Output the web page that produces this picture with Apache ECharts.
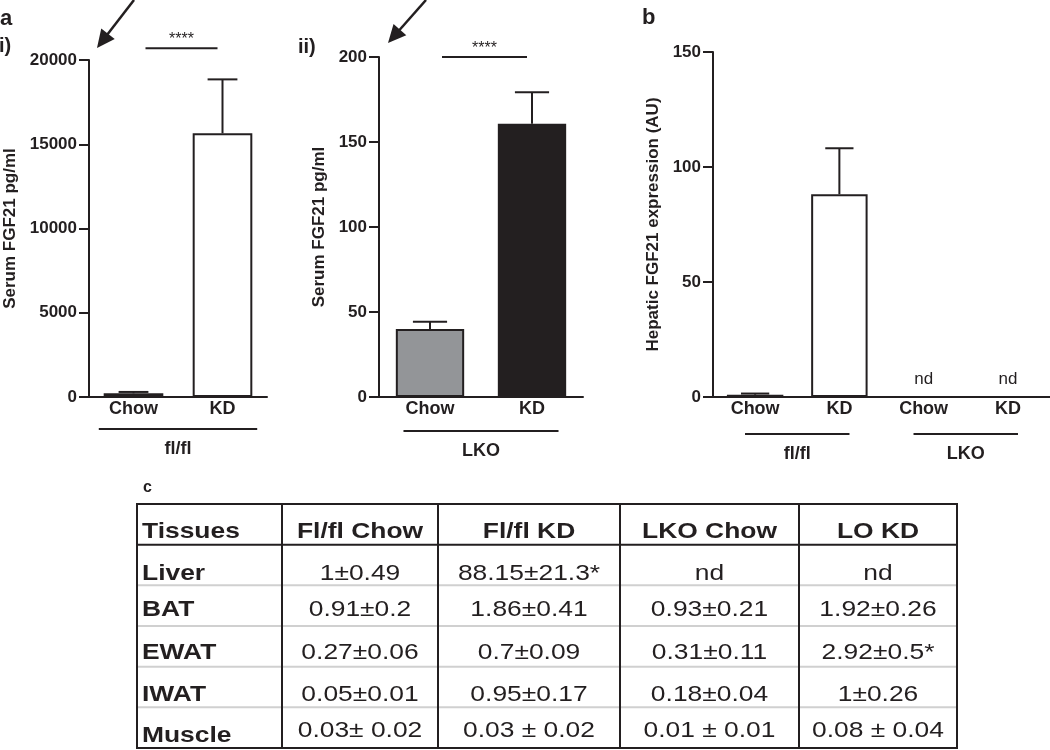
<!DOCTYPE html>
<html><head><meta charset="utf-8">
<script src="https://cdn.jsdelivr.net/npm/echarts@6/dist/echarts.min.js"></script>
<style>html,body{margin:0;padding:0;background:#fff}#c{width:1050px;height:750px}</style>
</head><body><div id="c"></div>
<script>
// ---------- data ----------
// panel a(i): serum FGF21, fl/fl mice
const catsA = ['Chow', 'KD'];
const serumFlfl = [220, 15650];
const serumFlflErr = [80, 3200];
// panel a(ii): serum FGF21, LKO mice
const serumLKO = [40, 160.8];
const serumLKOErr = [4.3, 18.4];
// significance annotations (value level of bracket, label)
const sigLevel = [20700, 200];
const sigLabel = ['****', '****'];
// group labels under x axes
const groupA1 = ['fl/fl'];
const groupA2 = ['LKO'];
const groupB = ['fl/fl', 'LKO'];
const groupBStart = [0, 2];
const groupBEnd = [1, 3];
// panel b: hepatic FGF21 expression
const catsB = ['Chow', 'KD', 'Chow', 'KD'];
const hepatic = [1, 88.15, 0, 0];
const hepaticErr = [0.5, 20, 0, 0];
const hepaticND = [false, false, true, true];
// panel c: table
const tableHeader = ['Tissues', 'Fl/fl Chow', 'Fl/fl KD', 'LKO Chow', 'LO KD'];
const tissues = ['Liver', 'BAT', 'EWAT', 'IWAT', 'Muscle'];
const colFlflChow = ['1±0.49', '0.91±0.2', '0.27±0.06', '0.05±0.01', '0.03± 0.02'];
const colFlflKD = ['88.15±21.3*', '1.86±0.41', '0.7±0.09', '0.95±0.17', '0.03 ± 0.02'];
const colLKOChow = ['nd', '0.93±0.21', '0.31±0.11', '0.18±0.04', '0.01 ± 0.01'];
const colLOKD = ['nd', '1.92±0.26', '2.92±0.5*', '1±0.26', '0.08 ± 0.04'];

// ---------- style ----------
const INK = '#231f20';
const GREY = '#939598';
const FONT = '"Liberation Sans", Arial, Helvetica, sans-serif';

const chart = echarts.init(document.getElementById('c'));

const grids = [
  {left: 89, top: 60, width: 178, height: 337},
  {left: 379, top: 57, width: 204, height: 340},
  {left: 713, top: 52, width: 337, height: 345}
];
const tblLeft = [137, 282, 438, 620, 799];
const tblWidth = [145, 156, 182, 179, 158];
tblLeft.forEach((l, i) => grids.push({left: l, top: 504, width: tblWidth[i], height: 244,
  show: true, borderColor: INK, borderWidth: 2, backgroundColor: 'transparent'}));

function xCat(gi, data) {
  return {type: 'category', gridIndex: gi, data: data,
    axisLine: {show: true, lineStyle: {color: INK, width: 2}},
    axisTick: {show: false},
    axisLabel: {margin: 3, color: INK, fontSize: 18, fontWeight: 'bold', fontFamily: FONT}};
}
function yVal(gi, max, interval, name, gap) {
  return {type: 'value', gridIndex: gi, min: 0, max: max, interval: interval,
    axisLine: {show: true, lineStyle: {color: INK, width: 2}},
    axisTick: {show: true, length: 10, lineStyle: {color: INK, width: 2}},
    axisLabel: {margin: 12, color: INK, fontSize: 17, fontWeight: 'bold', fontFamily: FONT,
      formatter: v => String(v)},
    splitLine: {show: false},
    name: name, nameLocation: 'middle', nameGap: gap,
    nameTextStyle: {color: INK, fontSize: 17, fontWeight: 'bold', fontFamily: FONT}};
}

function errSeries(ai, vals, errs) {
  return {type: 'custom', xAxisIndex: ai, yAxisIndex: ai, z: 5, silent: true, clip: false,
    encode: {x: 0, y: 1},
    data: vals.map((v, i) => [i, v, v + errs[i]]),
    renderItem(p, api) {
      if (!(api.value(2) > api.value(1))) return null;
      const x = api.value(0);
      const base = api.coord([x, api.value(1)]);
      const top = api.coord([x, api.value(2)]);
      const half = api.size([1, 0])[0] * 0.67 / 4;
      return {type: 'group', children: [
        {type: 'line', shape: {x1: base[0], y1: base[1], x2: top[0], y2: top[1]}, style: {stroke: INK, lineWidth: 2}},
        {type: 'line', shape: {x1: top[0] - half, y1: top[1], x2: top[0] + half, y2: top[1]}, style: {stroke: INK, lineWidth: 2}}
      ]};
    }};
}

function sigSeries(ai, k) {
  return {type: 'custom', xAxisIndex: ai, yAxisIndex: ai, z: 5, silent: true, clip: false,
    encode: {x: 0, y: 1},
    data: [[0, sigLevel[k]]],
    renderItem(p, api) {
      const a = api.coord([0, api.value(1)]);
      const b = api.coord([1, api.value(1)]);
      const x1 = a[0] + 12, x2 = b[0] - 5;
      return {type: 'group', children: [
        {type: 'line', shape: {x1: x1, y1: a[1], x2: x2, y2: a[1]}, style: {stroke: INK, lineWidth: 2}},
        {type: 'text', style: {text: sigLabel[k], x: (x1 + x2) / 2, y: a[1] - 8.5, align: 'center',
          verticalAlign: 'middle', fill: INK, font: '16px ' + FONT}}
      ]};
    }};
}

function groupSeries(ai, starts, ends, labels, ext, lineOff) {
  return {type: 'custom', xAxisIndex: ai, yAxisIndex: ai, z: 5, silent: true, clip: false,
    encode: {x: [0, 1], y: 2},
    data: starts.map((s, k) => [s, ends[k], 0]),
    renderItem(p, api) {
      const k = p.dataIndex;
      const a = api.coord([api.value(0), 0]);
      const b = api.coord([api.value(1), 0]);
      const bw = api.size([1, 0])[0];
      const x1 = a[0] - bw * ext, x2 = b[0] + bw * ext, y = a[1] + lineOff;
      return {type: 'group', children: [
        {type: 'line', shape: {x1: x1, y1: y, x2: x2, y2: y}, style: {stroke: INK, lineWidth: 2}},
        {type: 'text', style: {text: labels[k], x: (x1 + x2) / 2, y: y + 20, align: 'center',
          verticalAlign: 'middle', fill: INK, font: 'bold 18px ' + FONT}}
      ]};
    }};
}

const tableColumns = [tissues, colFlflChow, colFlflKD, colLKOChow, colLOKD];
// vertical text offset of each table row (header + 5 body rows), in px
const rowTextShift = [8, 9, 4, 7, 8, 3];
function tableSeries(i) {
  const cells = [tableHeader[i]].concat(tableColumns[i]);
  const ai = 3 + i;
  return {type: 'custom', xAxisIndex: ai, yAxisIndex: ai, silent: true, z: 3,
    encode: {x: 0, y: 1},
    data: cells.map((t, r) => [0, r]),
    renderItem(p, api) {
      const r = api.value(1);
      const c = api.coord([0, r]);
      const s = api.size([1, 1]);
      const x0 = c[0] - s[0] / 2, y0 = c[1] - s[1] / 2;
      const kids = [];
      if (r >= 1) kids.push({type: 'line', shape: {x1: x0 + 1, y1: y0, x2: x0 + s[0] - 1, y2: y0},
        style: {stroke: r === 1 ? INK : '#d0d0d0', lineWidth: 2}});
      const bold = r === 0 || i === 0;
      const shift = (i === 0 && r === 5) ? 8 : rowTextShift[r];
      kids.push({type: 'text', x: i === 0 ? x0 + 5 : c[0], y: c[1] + shift, scaleX: 1.2,
        style: {text: cells[r], x: 0, y: 0,
        align: i === 0 ? 'left' : 'center', verticalAlign: 'middle', fill: INK,
        font: (bold ? 'bold ' : '') + '22px ' + FONT}});
      return {type: 'group', children: kids};
    }};
}

function arrow(x1, y1, x2, y2) {
  const dx = x2 - x1, dy = y2 - y1, L = Math.hypot(dx, dy);
  const ux = dx / L, uy = dy / L, hl = 18, hw = 8.5;
  const bx = x2 - ux * hl, by = y2 - uy * hl;
  return [
    {type: 'line', shape: {x1: x1, y1: y1, x2: bx + ux * 2, y2: by + uy * 2}, style: {stroke: INK, lineWidth: 2.5}},
    {type: 'polygon', shape: {points: [[x2, y2], [bx - uy * hw, by + ux * hw], [bx + uy * hw, by - ux * hw]]}, style: {fill: INK}}
  ];
}

const xAxes = [xCat(0, catsA), xCat(1, catsA), xCat(2, catsB)];
const yAxes = [
  yVal(0, 20000, 5000, 'Serum FGF21 pg/ml', 70),
  yVal(1, 200, 50, 'Serum FGF21 pg/ml', 51),
  yVal(2, 150, 50, 'Hepatic FGF21 expression (AU)', 51)
];
for (let i = 0; i < 5; i++) {
  xAxes.push({type: 'category', gridIndex: 3 + i, data: [tableHeader[i]], show: false});
  yAxes.push({type: 'category', gridIndex: 3 + i, data: ['header'].concat(tissues), inverse: true, show: false});
}

const lkoColors = [GREY, INK];
const series = [
  {type: 'bar', xAxisIndex: 0, yAxisIndex: 0, data: serumFlfl, barWidth: '67%',
    itemStyle: {color: '#fff', borderColor: INK, borderWidth: 2}},
  errSeries(0, serumFlfl, serumFlflErr),
  sigSeries(0, 0),
  groupSeries(0, [0], [1], groupA1, 0.39, 32),
  {type: 'bar', xAxisIndex: 1, yAxisIndex: 1, barWidth: '67%',
    data: serumLKO.map((v, i) => ({value: v, itemStyle: {color: lkoColors[i]}})),
    itemStyle: {borderColor: INK, borderWidth: 2}},
  errSeries(1, serumLKO, serumLKOErr),
  sigSeries(1, 1),
  groupSeries(1, [0], [1], groupA2, 0.26, 34),
  {type: 'bar', xAxisIndex: 2, yAxisIndex: 2, barWidth: '67%',
    data: hepatic.map((v, i) => ({value: v, label: {show: hepaticND[i]}})),
    itemStyle: {color: '#fff', borderColor: INK, borderWidth: 2},
    label: {position: 'top', distance: 8, formatter: 'nd', color: INK, fontSize: 17, fontFamily: FONT}},
  errSeries(2, hepatic, hepaticErr),
  groupSeries(2, groupBStart, groupBEnd, groupB, 0.12, 37)
];
for (let i = 0; i < 5; i++) series.push(tableSeries(i));

const graphic = [
  {type: 'text', x: 0, y: 19, style: {text: 'a', font: 'bold 22px ' + FONT, fill: INK, verticalAlign: 'middle'}},
  {type: 'text', x: -1, y: 46, style: {text: 'i)', font: 'bold 20px ' + FONT, fill: INK, verticalAlign: 'middle'}},
  {type: 'text', x: 298, y: 47, style: {text: 'ii)', font: 'bold 20px ' + FONT, fill: INK, verticalAlign: 'middle'}},
  {type: 'text', x: 642, y: 18, style: {text: 'b', font: 'bold 22px ' + FONT, fill: INK, verticalAlign: 'middle'}},
  {type: 'text', x: 143, y: 488, style: {text: 'c', font: 'bold 16px ' + FONT, fill: INK, verticalAlign: 'middle'}}
].concat(arrow(134, 0, 97, 48), arrow(426, 0, 388, 43));

chart.setOption({
  animation: false,
  backgroundColor: '#fff',
  grid: grids,
  xAxis: xAxes,
  yAxis: yAxes,
  series: series,
  graphic: graphic
});
</script>
</body></html>
